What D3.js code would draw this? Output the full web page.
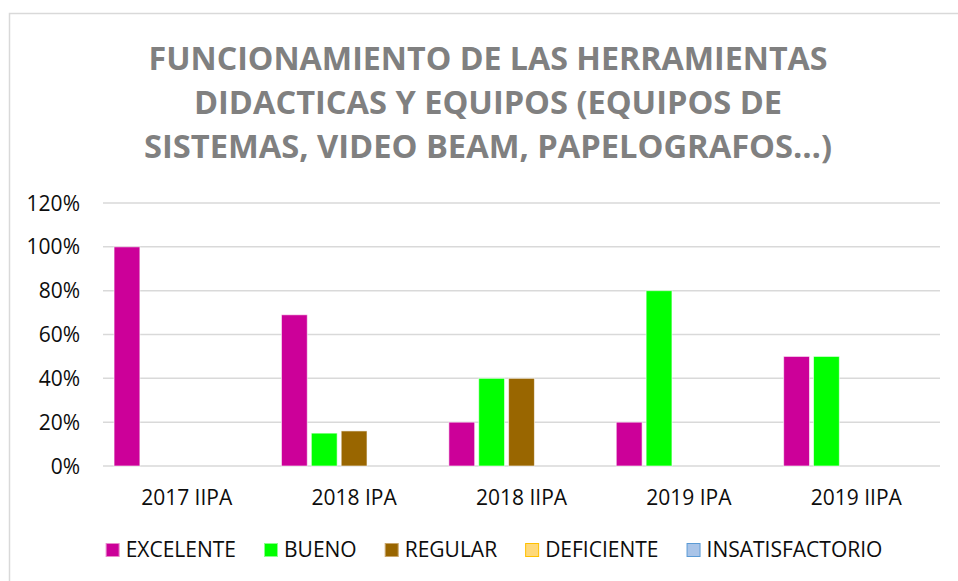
<!DOCTYPE html>
<html>
<head>
<meta charset="utf-8">
<script src="https://cdn.jsdelivr.net/npm/d3@7"></script>
<style>
  html, body { margin: 0; padding: 0; background: #ffffff; }
  svg { display: block; }
</style>
</head>
<body>
<div id="chart"></div>
<script>
// Chart data
const periods = ['2017 IIPA', '2018 IPA', '2018 IIPA', '2019 IPA', '2019 IIPA'];
const seriesNames = ['EXCELENTE', 'BUENO', 'REGULAR', 'DEFICIENTE', 'INSATISFACTORIO'];
const excelente = [1.00, 0.69, 0.20, 0.20, 0.50];
const bueno = [0, 0.15, 0.40, 0.80, 0.50];
const regular = [0, 0.16, 0.40, 0, 0];
const deficiente = [0, 0, 0, 0, 0];
const insatisfactorio = [0, 0, 0, 0, 0];
const yTicks = [0, 0.2, 0.4, 0.6, 0.8, 1.0, 1.2];
const titleLines = [
  'FUNCIONAMIENTO DE LAS HERRAMIENTAS',
  'DIDACTICAS Y EQUIPOS (EQUIPOS DE',
  'SISTEMAS, VIDEO BEAM, PAPELOGRAFOS…)'
];

(function() {
  const width = 958;
  const height = 581;
  const margin = { top: 203, right: 18, bottom: 115, left: 103 };

  const fillColors = ['#CC0099', '#00FF00', '#996600', '#FFD97A', '#A9C4E8'];
  const strokeColors = ['#E88BCB', '#8BFF8B', '#C9A66B', '#FFC000', '#5B9BD5'];
  const textColor = '#0d0d0d';
  const gridColor = '#D9D9D9';
  const font = '"Open Sans", sans-serif';

  const allValues = [excelente, bueno, regular, deficiente, insatisfactorio];
  const data = periods.map((p, i) => ({
    period: p,
    values: seriesNames.map((s, j) => ({ series: s, index: j, value: allValues[j][i] }))
  }));

  const svg = d3.select('#chart')
    .append('svg')
    .attr('width', width)
    .attr('height', height);

  // Chart area border
  svg.append('rect')
    .attr('x', 9.5)
    .attr('y', 13.5)
    .attr('width', 1000)
    .attr('height', 700)
    .attr('fill', 'none')
    .attr('stroke', gridColor)
    .attr('stroke-width', 1.5);

  // Title, three centred lines
  const titleX = 488;
  const titleSizes = [679, 588, 688];
  svg.selectAll('.title-line')
    .data(titleLines)
    .enter()
    .append('text')
    .attr('class', 'title-line')
    .attr('x', titleX)
    .attr('y', (d, i) => 69.5 + i * 44.3)
    .attr('text-anchor', 'middle')
    .attr('textLength', (d, i) => titleSizes[i])
    .attr('lengthAdjust', 'spacingAndGlyphs')
    .style('font-family', font)
    .style('font-size', '32px')
    .style('font-weight', '700')
    .style('fill', '#808080')
    .text(d => d);

  const plotW = width - margin.left - margin.right;
  const plotBottom = 466;

  const x0 = d3.scaleBand()
    .domain(periods)
    .range([margin.left, margin.left + plotW])
    .padding(0);

  const x1 = d3.scaleBand()
    .domain(seriesNames)
    .range([0, x0.bandwidth()])
    .paddingInner(0.135)
    .paddingOuter(0.37);

  const y = d3.scaleLinear()
    .domain([0, 1.2])
    .range([plotBottom, margin.top]);

  // Horizontal grid lines
  svg.append('g')
    .selectAll('line')
    .data(yTicks)
    .enter()
    .append('line')
    .attr('x1', margin.left)
    .attr('x2', margin.left + plotW)
    .attr('y1', d => y(d))
    .attr('y2', d => y(d))
    .attr('stroke', gridColor)
    .attr('stroke-width', 1.5);

  // Y axis labels
  svg.append('g')
    .selectAll('text')
    .data(yTicks)
    .enter()
    .append('text')
    .attr('x', margin.left - 23)
    .attr('y', d => y(d))
    .attr('dy', '0.36em')
    .attr('text-anchor', 'end')
    .style('font-family', font)
    .style('font-size', '21px')
    .style('fill', textColor)
    .text(d => d3.format('.0%')(d));

  // Bars
  const groups = svg.append('g')
    .selectAll('g')
    .data(data)
    .enter()
    .append('g')
    .attr('transform', d => `translate(${x0(d.period)},0)`);

  groups.selectAll('rect')
    .data(d => d.values.filter(v => v.value > 0))
    .enter()
    .append('rect')
    .attr('x', d => x1(d.series))
    .attr('y', d => y(d.value))
    .attr('width', x1.bandwidth())
    .attr('height', d => plotBottom - y(d.value))
    .attr('fill', d => fillColors[d.index])
    .attr('stroke', '#ffffff')
    .attr('stroke-opacity', 0.6)
    .attr('stroke-width', 1);

  // X axis labels
  svg.append('g')
    .selectAll('text')
    .data(periods)
    .enter()
    .append('text')
    .attr('x', d => x0(d) + x0.bandwidth() / 2)
    .attr('y', 505)
    .attr('text-anchor', 'middle')
    .style('font-family', font)
    .style('font-size', '21px')
    .style('fill', textColor)
    .text(d => d);

  // Legend, laid out in a row and centred
  const legend = svg.append('g');
  const items = legend.selectAll('g')
    .data(seriesNames)
    .enter()
    .append('g');

  items.append('rect')
    .attr('x', 0.5)
    .attr('y', 543.5)
    .attr('width', 13)
    .attr('height', 13)
    .attr('fill', (d, i) => fillColors[i])
    .attr('stroke', (d, i) => strokeColors[i])
    .attr('stroke-width', 1);

  items.append('text')
    .attr('x', 20)
    .attr('y', 557)
    .style('font-family', font)
    .style('font-size', '21px')
    .style('fill', textColor)
    .text(d => d);

  let offset = 0;
  const positions = [];
  items.each(function() {
    const w = d3.select(this).select('text').node().getComputedTextLength();
    positions.push(offset);
    offset += 20 + w + 28;
  });
  const total = offset - 28;
  const startX = 494 - total / 2;
  items.attr('transform', (d, i) => `translate(${startX + positions[i]},0)`);
})();
</script>
</body>
</html>
